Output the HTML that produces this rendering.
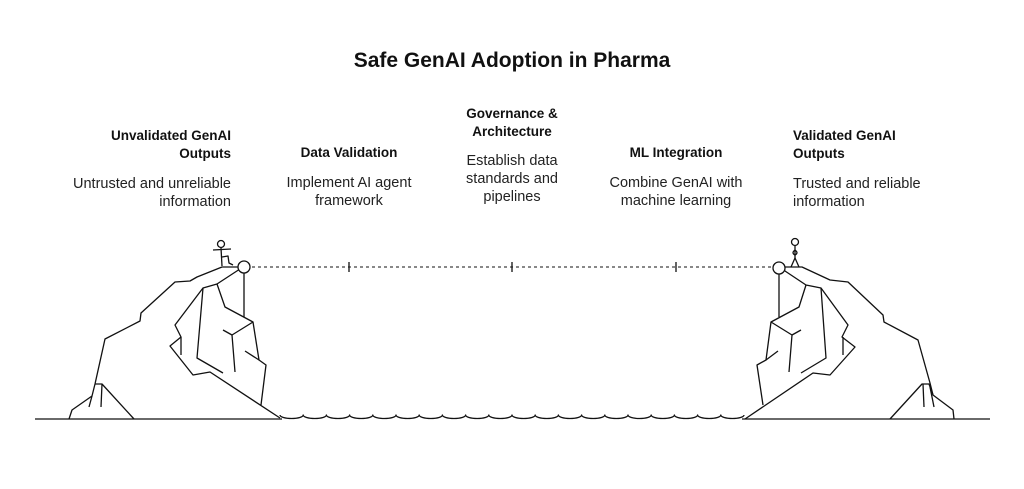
<!DOCTYPE html>
<html><head><meta charset="utf-8"><style>
body{margin:0;width:1024px;height:489px;background:#fff;position:relative;overflow:hidden;font-family:"Liberation Sans",sans-serif;color:#111}
.t{position:absolute;top:49px;left:0;width:1024px;text-align:center;font-size:21px;font-weight:bold}
.c{position:absolute;width:180px}
.h{font-weight:bold;font-size:13.5px;line-height:18px}
.b{font-size:14.5px;line-height:18px;margin-top:12px;color:#222}
</style></head><body>
<div class="t">Safe GenAI Adoption in Pharma</div>
<div class="c" style="left:51px;top:127px;text-align:right"><div class="h">Unvalidated GenAI<br>Outputs</div><div class="b">Untrusted and unreliable<br>information</div></div>
<div class="c" style="left:259px;top:144px;text-align:center"><div class="h">Data Validation</div><div class="b">Implement AI agent<br>framework</div></div>
<div class="c" style="left:422px;top:105px;text-align:center"><div class="h">Governance &amp;<br>Architecture</div><div class="b" style="margin-top:11px">Establish data<br>standards and<br>pipelines</div></div>
<div class="c" style="left:586px;top:144px;text-align:center"><div class="h">ML Integration</div><div class="b">Combine GenAI with<br>machine learning</div></div>
<div class="c" style="left:793px;top:127px;text-align:left"><div class="h">Validated GenAI<br>Outputs</div><div class="b">Trusted and reliable<br>information</div></div>
<svg width="1024" height="489" style="position:absolute;left:0;top:0" fill="none" stroke="#111" stroke-width="1.3" stroke-linejoin="round">
<line x1="35" y1="419" x2="282" y2="419"/><line x1="742" y1="419" x2="990" y2="419"/>
<path d="M280 415 a11.6 3.5 0 0 0 23.2 0 a11.6 3.5 0 0 0 23.2 0 a11.6 3.5 0 0 0 23.2 0 a11.6 3.5 0 0 0 23.2 0 a11.6 3.5 0 0 0 23.2 0 a11.6 3.5 0 0 0 23.2 0 a11.6 3.5 0 0 0 23.2 0 a11.6 3.5 0 0 0 23.2 0 a11.6 3.5 0 0 0 23.2 0 a11.6 3.5 0 0 0 23.2 0 a11.6 3.5 0 0 0 23.2 0 a11.6 3.5 0 0 0 23.2 0 a11.6 3.5 0 0 0 23.2 0 a11.6 3.5 0 0 0 23.2 0 a11.6 3.5 0 0 0 23.2 0 a11.6 3.5 0 0 0 23.2 0 a11.6 3.5 0 0 0 23.2 0 a11.6 3.5 0 0 0 23.2 0 a11.6 3.5 0 0 0 23.2 0 a11.6 3.5 0 0 0 23.2 0"/>
<line x1="252" y1="267" x2="773" y2="267" stroke-dasharray="3,3" stroke-width="1"/>
<line x1="349" y1="262" x2="349" y2="272"/><line x1="512" y1="262" x2="512" y2="272"/><line x1="676" y1="262" x2="676" y2="272"/>
<polyline points="69,419 72,410 92,396 95,384 105,339 140,321 141,313 175,282 190,281 197,277 222,267 243,267"/>
<polyline points="95,384 102,384 134,419"/><line x1="102" y1="384" x2="101" y2="407"/><line x1="92" y1="396" x2="89" y2="407"/>
<polyline points="243,267 217,284 203,288 175,325 181,337 170,346 193,375 210,372 280,418"/>
<polyline points="217,284 225,307 253,322 259,360 266,365 261,405"/>
<line x1="244" y1="267" x2="244" y2="317"/>
<polyline points="253,322 232,335 235,372"/><line x1="232" y1="335" x2="223" y2="330"/>
<polyline points="203,288 197,358 223,373"/><line x1="181" y1="337" x2="181" y2="355"/><line x1="245" y1="351" x2="259" y2="360"/>
<circle cx="244" cy="267" r="6" fill="#fff"/>
<circle cx="221" cy="244" r="3.5"/><polyline points="221,248 222,266"/><line x1="213" y1="250" x2="231" y2="249"/><polyline points="222,257 228,256 229,263 233,265"/>
<polyline points="779,267 802,267 830,280 848,282 883,315 884,322 918,340 930,383 933,395 953,410 954,419"/>
<polyline points="890,419 922,384 929,384 933,395"/><line x1="923" y1="384" x2="924" y2="407"/><line x1="930" y1="387" x2="934" y2="407"/>
<polyline points="779,267 806,285 821,288 848,325 842,337 855,347 830,375 813,373 745,419"/>
<polyline points="806,285 799,307 771,322 766,360 757,365 763,405"/>
<line x1="779" y1="267" x2="779" y2="317"/>
<polyline points="771,322 792,335 789,372"/><line x1="792" y1="335" x2="801" y2="330"/>
<polyline points="821,288 826,358 801,373"/><line x1="843" y1="337" x2="843" y2="355"/><line x1="778" y1="351" x2="766" y2="360"/>
<circle cx="779" cy="268" r="6" fill="#fff"/>
<circle cx="795" cy="242" r="3.5"/><polyline points="795,246 795,258"/><path d="M795 250 q-4 3 0 5 M795 250 q4 3 0 5"/><polyline points="791,267 795,258 799,267"/>
</svg>
</body></html>
